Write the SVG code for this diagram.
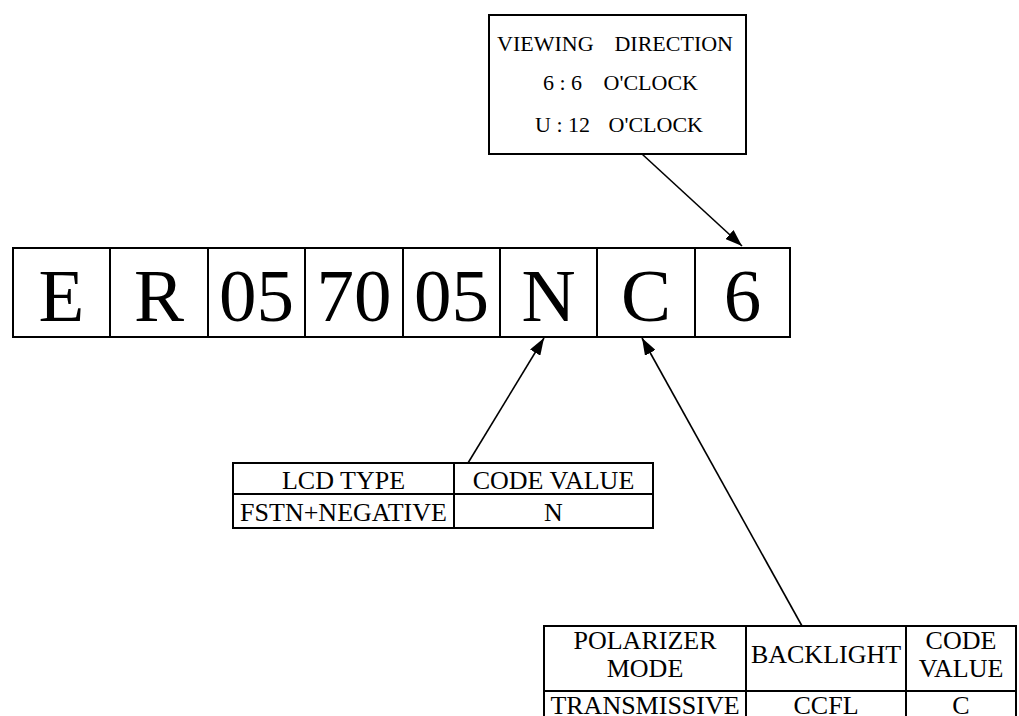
<svg xmlns="http://www.w3.org/2000/svg" width="1019" height="716" viewBox="0 0 1019 716">
<style>
text{font-family:"Liberation Serif","Times New Roman",serif;fill:#000}
.big{font-size:75px;text-anchor:middle}
.v{font-size:22px}
.t{font-size:26px;text-anchor:middle}
.box{fill:#fff;stroke:#000;stroke-width:2}
.ln{stroke:#000;stroke-width:2;fill:none}
.conn{stroke:#000;stroke-width:1.6;fill:none;marker-end:url(#ah)}
</style>
<defs>
<marker id="ah" markerUnits="userSpaceOnUse" markerWidth="18" markerHeight="12" refX="17" refY="6" orient="auto">
<path d="M0,0 L17,6 L0,12 Z" fill="#000"/>
</marker>
</defs>
<rect width="1019" height="716" fill="#fff"/>
<g id="viewing">
<rect class="box" x="489" y="15" width="257" height="139"/>
<text class="v" x="497" y="51">VIEWING</text>
<text class="v" x="733" y="51" text-anchor="end">DIRECTION</text>
<text class="v" x="543" y="90">6 : 6</text>
<text class="v" x="698" y="90" text-anchor="end">O'CLOCK</text>
<text class="v" x="535" y="132">U : 12</text>
<text class="v" x="703" y="132" text-anchor="end">O'CLOCK</text>
</g>
<g id="code">
<rect class="box" x="13" y="248" width="777" height="89"/>
<path class="ln" d="M110,248V337M208,248V337M305,248V337M403,248V337M500,248V337M597,248V337M695,248V337"/>
<text class="big" x="61.5" y="321">E</text>
<text class="big" x="159" y="321">R</text>
<text class="big" x="256.5" y="321">05</text>
<text class="big" x="354" y="321">70</text>
<text class="big" x="451.5" y="321">05</text>
<text class="big" x="548.5" y="321">N</text>
<text class="big" x="646" y="321">C</text>
<text class="big" x="742.5" y="321">6</text>
</g>
<g id="lcd-table">
<rect class="box" x="233" y="463" width="420" height="65"/>
<path class="ln" d="M454,463V528M233,494H653"/>
<text class="t" x="343.5" y="489">LCD TYPE</text>
<text class="t" x="553.5" y="489">CODE VALUE</text>
<text class="t" x="343.5" y="521">FSTN+NEGATIVE</text>
<text class="t" x="553.5" y="521">N</text>
</g>
<g id="polarizer-table">
<rect class="box" x="544" y="626" width="472" height="110"/>
<path class="ln" d="M746,626V736M906,626V736M544,691H1016"/>
<text class="t" x="645" y="649">POLARIZER</text>
<text class="t" x="645" y="677">MODE</text>
<text class="t" x="826" y="663">BACKLIGHT</text>
<text class="t" x="961" y="649">CODE</text>
<text class="t" x="961" y="677">VALUE</text>
<text class="t" x="645" y="714">TRANSMISSIVE</text>
<text class="t" x="826" y="714">CCFL</text>
<text class="t" x="961" y="714">C</text>
</g>
<g id="connectors">
<line class="conn" x1="642" y1="154" x2="742" y2="246"/>
<line class="conn" x1="468" y1="463" x2="544" y2="338"/>
<line class="conn" x1="802" y1="626" x2="642" y2="338"/>
</g>
</svg>
